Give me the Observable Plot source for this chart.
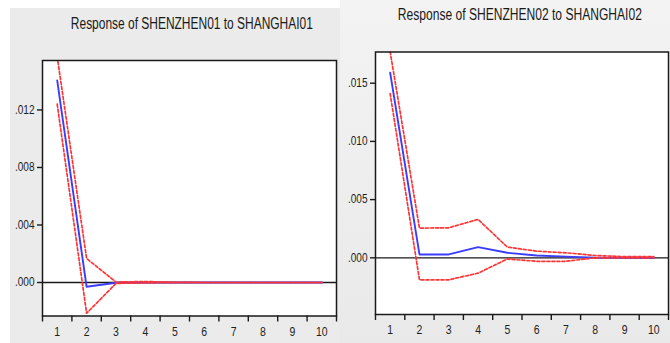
<!DOCTYPE html>
<html><head><meta charset="utf-8">
<script src="https://cdn.jsdelivr.net/npm/d3@7"></script>
<script src="https://cdn.jsdelivr.net/npm/@observablehq/plot@0.6"></script>
<style>
html,body{margin:0;padding:0;background:#fff;}
#root{position:relative;width:670px;height:343px;overflow:hidden;font-family:"Liberation Sans",Arial,sans-serif;}
.panel{position:absolute;}
.panel svg{position:absolute;left:0;top:0;background:transparent;}
.title{position:absolute;white-space:nowrap;font-size:16px;line-height:16px;color:#1a1a1a;transform-origin:center center;}
</style></head><body><div id="root"></div>
<script>
// periods (x categories)
const periods = [1, 2, 3, 4, 5, 6, 7, 8, 9, 10];

// Panel 1: Response of SHENZHEN01 to SHANGHAI01
const title01 = "Response of SHENZHEN01 to SHANGHAI01";
const resp01  = [0.01405, -0.00030, -0.00002, 0, 0, 0, 0, 0, 0, 0];
const upper01 = [0.01570, 0.00167, 0.00003, 0.00007, 0.00001, 0, 0, 0, 0, 0];
const lower01 = [0.01240, -0.00214, -0.00006, -0.00003, 0, 0, 0, 0, 0, 0];
const yTicks01 = [0, 0.004, 0.008, 0.012];

// Panel 2: Response of SHENZHEN02 to SHANGHAI02
const title02 = "Response of SHENZHEN02 to SHANGHAI02";
const resp02  = [0.0159, 0.00029, 0.00029, 0.00092, 0.00043, 0.0002, 0.0001, 0.00002, 0, 0];
const upper02 = [0.0177, 0.00255, 0.00258, 0.0033, 0.00092, 0.00057, 0.00043, 0.0002, 0.0001, 0.0001];
const lower02 = [0.0141, -0.00189, -0.00189, -0.00132, -0.0001, -0.0003, -0.0003, 0, 0, 0];
const yTicks02 = [0, 0.005, 0.010, 0.015];

const fmt = v => d3.format(".3f")(v).replace(/^0/, "").replace(/^-0/, "-");

function panel(cfg) {
  const root = document.getElementById("root");
  const div = document.createElement("div");
  div.className = "panel";
  Object.assign(div.style, {left: cfg.left + "px", top: cfg.top + "px", width: cfg.width + "px", height: cfg.height + "px", background: cfg.bg});
  root.appendChild(div);

  const data = periods.map((p, i) => ({p, resp: cfg.resp[i], upper: cfg.upper[i], lower: cfg.lower[i]}));
  const edges = periods.map(p => p - 0.5).concat([periods[periods.length - 1] + 0.5]);

  const svg = Plot.plot({
    width: cfg.width,
    height: cfg.height,
    marginLeft: cfg.frame.l - cfg.left,
    marginTop: cfg.frame.t - cfg.top,
    marginRight: cfg.left + cfg.width - cfg.frame.r,
    marginBottom: cfg.top + cfg.height - cfg.frame.b,
    style: {background: "transparent", fontFamily: '"Liberation Sans", Arial, sans-serif', fontSize: "12px", color: "#1e1e1e"},
    x: {domain: [edges[0], edges[edges.length - 1]], label: null},
    y: {domain: cfg.domain, label: null},
    marks: [
      Plot.frame({fill: "#ffffff"}),
      Plot.ruleY([0], {stroke: "#1a1a1a", strokeWidth: 1.3}),
      Plot.line(data, {x: "p", y: "resp", stroke: "#3c3cff", strokeWidth: 1.9, clip: true}),
      Plot.line(data, {x: "p", y: "upper", stroke: "#ff3535", strokeWidth: 1.7, strokeDasharray: "3,2", clip: true}),
      Plot.line(data, {x: "p", y: "lower", stroke: "#ff3535", strokeWidth: 1.7, strokeDasharray: "3,2", clip: true}),
      Plot.frame({stroke: "#1a1a1a", strokeWidth: 1.5}),
      Plot.axisX({ticks: edges, tickSize: 6, tickFormat: () => "", label: null, stroke: "#1a1a1a", strokeWidth: 1.4}),
      Plot.axisX({ticks: periods, tickSize: 0, tickPadding: 11, tickFormat: d => String(d), label: null, fill: "#1e1e1e", fontSize: 12.5}),
      Plot.axisY({ticks: cfg.yTicks, tickSize: 5, tickPadding: 3, tickFormat: fmt, label: null, stroke: "#1a1a1a", strokeWidth: 1.4, fill: "#1e1e1e", fontSize: 12})
    ]
  });
  div.appendChild(svg);
  // condensed look of the original typeface
  svg.querySelectorAll("text").forEach(t => {
    const tr = t.getAttribute("transform") || "";
    t.setAttribute("transform", (tr + " scale(0.84,1)").trim());
  });

  const tdiv = document.createElement("div");
  tdiv.className = "title";
  tdiv.textContent = cfg.title;
  root.appendChild(tdiv);
  const w = tdiv.getBoundingClientRect().width;
  tdiv.style.left = (cfg.titleX - w / 2) + "px";
  tdiv.style.top = (cfg.titleY - 8) + "px";
  tdiv.style.transform = `scaleX(${cfg.titleW / w})`;
}

panel({
  left: 10, top: 8, width: 330, height: 335, bg: "#ebebeb",
  frame: {l: 42, t: 60, r: 336, b: 315.5},
  domain: [-0.00233, 0.01544], yTicks: yTicks01,
  resp: resp01, upper: upper01, lower: lower01,
  title: title01, titleX: 192, titleY: 24, titleW: 242
});
panel({
  left: 340, top: 0, width: 330, height: 343, bg: "linear-gradient(#f3f3f3, #e9e9e9)",
  frame: {l: 375, t: 51.5, r: 668, b: 314},
  domain: [-0.00487, 0.01768], yTicks: yTicks02,
  resp: resp02, upper: upper02, lower: lower02,
  title: title02, titleX: 520, titleY: 15, titleW: 244
});
</script>
</body></html>
